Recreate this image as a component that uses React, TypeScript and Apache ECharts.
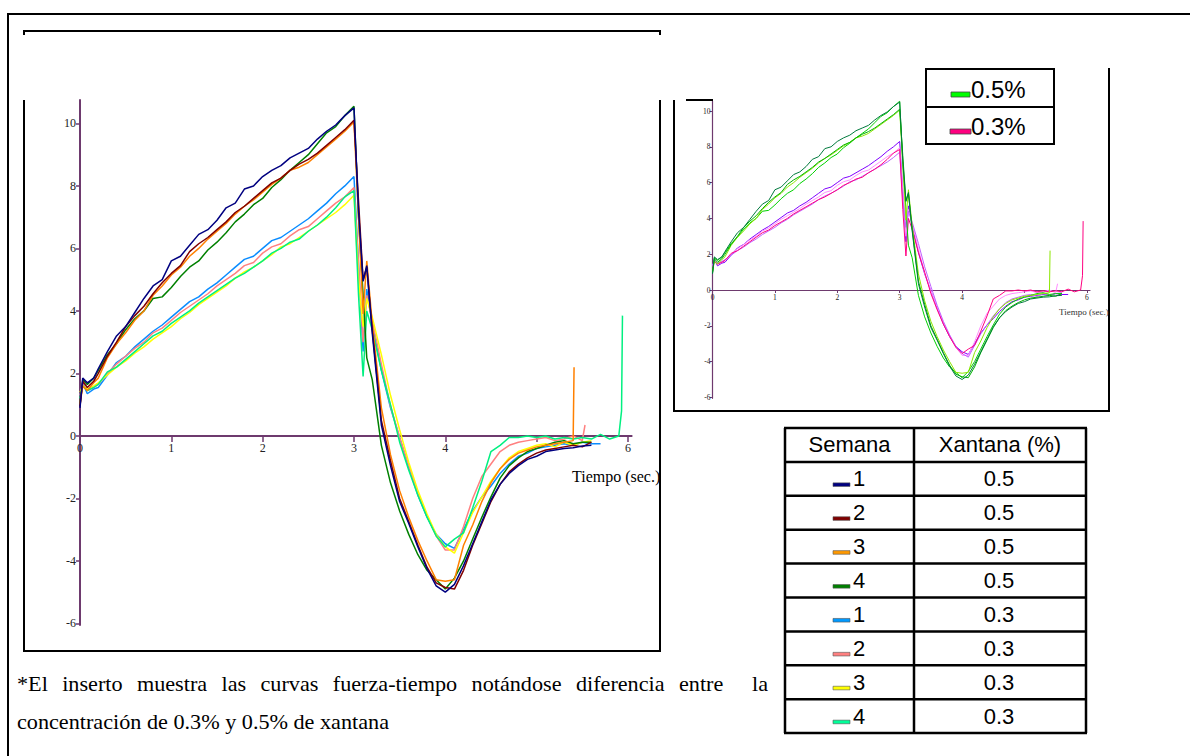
import React, { useEffect, useRef } from "react";
import * as echarts from "echarts";

// ---------- DATA ----------
const TIME = [
  0, 0.03, 0.08, 0.15, 0.2, 0.3, 0.4, 0.5, 0.6, 0.7, 0.8, 0.9, 1.0, 1.1, 1.2, 1.3, 1.4, 1.5, 1.6, 1.7,
  1.8, 1.9, 2.0, 2.1, 2.2, 2.3, 2.4, 2.5, 2.6, 2.7, 2.8, 2.9, 3.0,
  3.05, 3.1, 3.14, 3.2, 3.3, 3.4, 3.5, 3.6, 3.7, 3.8, 3.9, 4.0, 4.1, 4.2, 4.3, 4.4, 4.5, 4.6, 4.7,
  4.8, 4.9, 5.0, 5.1, 5.2, 5.3, 5.4, 5.5, 5.6, 5.7, 5.8, 5.9,
];

// Semana 1, 0.5 %
const S1_05 = [
  0.9, 1.85, 1.7, 1.85, 2.15, 2.7, 3.2, 3.5, 3.95, 4.4, 4.8, 5.0, 5.6, 5.75, 6.1, 6.45, 6.6, 6.9, 7.3, 7.45,
  7.9, 8.0, 8.3, 8.5, 8.65, 8.9, 9.05, 9.2, 9.5, 9.75, 9.95, 10.25, 10.5,
  7.2, 4.95, 5.45, 3.3, 0.35, -0.95, -2.1, -2.8, -3.55, -4.25, -4.8, -5.0, -4.75, -4.15, -3.45, -2.75, -2.05, -1.55, -1.2,
  -0.95, -0.75, -0.65, -0.5, -0.45, -0.4, -0.38, -0.32, -0.3, null, null, null,
];
// Semana 2, 0.5 %
const S2_05 = [
  0.95, 1.75, 1.55, 1.75, 2.0, 2.55, 3.0, 3.5, 3.85, 4.15, 4.55, 4.9, 5.2, 5.45, 5.9, 6.15, 6.35, 6.6, 6.85, 7.15,
  7.35, 7.6, 7.85, 8.1, 8.25, 8.5, 8.7, 8.85, 9.05, 9.3, 9.55, 9.8, 10.1,
  7.5, 5.0, 5.4, 3.4, 0.5, -0.8, -2.0, -2.75, -3.5, -4.2, -4.7, -4.85, -4.9, -4.3, -3.5, -2.8, -2.1, -1.55, -1.15,
  -0.9, -0.7, -0.55, -0.45, -0.4, -0.35, -0.3, -0.35, -0.2, null, null, null,
];
// Semana 3, 0.5 %
const S3_05 = [
  1.0, 1.6, 1.45, 1.7, 1.85, 2.5, 2.95, 3.3, 3.7, 4.0, 4.5, 4.8, 5.15, 5.4, 5.75, 6.0, 6.3, 6.55, 6.8, 7.1,
  7.35, 7.55, 7.8, 8.05, 8.25, 8.5, 8.6, 8.75, 9.0, 9.25, 9.5, 9.75, 10.05,
  7.0, 3.9, 5.6, 3.6, 0.9, -0.6, -1.75, -2.6, -3.35, -4.0, -4.6, -4.65, -4.6, -3.5, -2.85, -2.1, -1.5, -1.05, -0.75,
  -0.55, -0.45, -0.35, -0.3, -0.25, -0.2, -0.15, null, null, null, null, null,
];
// Semana 4, 0.5 %
const S4_05 = [
  1.0, 1.8, 1.65, 1.85, 2.1, 2.6, 2.95, 3.4, 3.75, 4.0, 4.4, 4.45, 4.75, 5.1, 5.4, 5.6, 5.95, 6.2, 6.5, 6.85,
  7.1, 7.4, 7.6, 7.95, 8.2, 8.5, 8.75, 9.0, 9.35, 9.7, 9.9, 10.25, 10.55,
  7.0, 4.5, 2.5, 1.8, -0.3, -1.5, -2.4, -3.15, -3.8, -4.3, -4.6, -4.9, -4.55, -4.0, -3.3, -2.6, -1.95, -1.35, -0.95,
  -0.7, -0.5, -0.4, -0.3, -0.2, -0.15, -0.25, -0.2, -0.2, null, null, null,
];
// Semana 1, 0.3 %
const S1_03 = [
  1.3, 1.7, 1.35, 1.5, 1.55, 1.95, 2.35, 2.55, 2.85, 3.1, 3.35, 3.55, 3.8, 4.05, 4.3, 4.45, 4.7, 4.9, 5.15, 5.4,
  5.65, 5.75, 6.0, 6.25, 6.35, 6.55, 6.75, 6.95, 7.2, 7.45, 7.75, 8.0, 8.3,
  5.5, 2.7, 4.7, 3.6, 2.1, 0.9, -0.05, -1.0, -1.9, -2.6, -3.15, -3.45, -3.6, -3.0, -2.4, -1.95, -1.6, -1.2, -0.9,
  -0.65, -0.55, -0.4, -0.35, -0.3, -0.25, -0.3, -0.2, -0.25, -0.25, null, null,
];
// Semana 2, 0.3 %
const S2_03 = [
  1.3, 1.65, 1.45, 1.55, 1.65, 2.0, 2.3, 2.55, 2.8, 3.0, 3.3, 3.45, 3.7, 3.95, 4.15, 4.35, 4.55, 4.8, 5.0, 5.2,
  5.45, 5.55, 5.85, 6.05, 6.15, 6.4, 6.6, 6.7, 6.95, 7.2, 7.45, 7.65, 7.95,
  5.5, 3.0, 4.5, 3.7, 2.3, 0.95, -0.05, -0.95, -1.85, -2.55, -3.2, -3.65, -3.65, -2.9, -2.0, -1.3, -0.9, -0.5, -0.3,
  -0.2, -0.15, -0.1, -0.05, -0.15, -0.1, 0.0, -0.15, null, null, null, null,
];
// Semana 3, 0.3 %
const S3_03 = [
  1.4, 1.6, 1.5, 1.6, 1.7, 1.95, 2.2, 2.4, 2.65, 2.85, 3.1, 3.3, 3.5, 3.75, 3.95, 4.2, 4.4, 4.6, 4.8, 5.05,
  5.25, 5.4, 5.6, 5.8, 6.05, 6.15, 6.35, 6.55, 6.75, 6.95, 7.15, 7.4, 7.7,
  5.0, 3.5, 4.4, 3.8, 2.6, 1.3, 0.2, -0.85, -1.75, -2.5, -3.15, -3.55, -3.75, -3.1, -2.45, -1.95, -1.45, -1.05, -0.7,
  -0.5, -0.4, -0.3, -0.25, -0.35, -0.2, -0.3, -0.2, -0.15, null, null, null,
];
// Semana 4, 0.3 %
const S4_03 = [
  1.2, 1.6, 1.45, 1.55, 1.65, 2.05, 2.2, 2.45, 2.7, 2.95, 3.2, 3.35, 3.6, 3.8, 4.0, 4.25, 4.45, 4.65, 4.85, 5.05,
  5.2, 5.4, 5.6, 5.85, 6.0, 6.2, 6.3, 6.55, 6.75, 7.0, 7.3, 7.65, 7.85,
  4.5, 1.9, 4.0, 3.4, 2.1, 1.0, -0.2, -1.1, -1.9, -2.6, -3.2, -3.55, -3.3, -3.1, -2.3, -1.45, -0.5, -0.3, -0.05,
  -0.05, 0.0, -0.05, 0.0, -0.1, -0.05, -0.1, -0.05, -0.1, 0.05, -0.1, 0.0,
];

const SERIES_VALUES = [S1_05, S2_05, S3_05, S4_05, S1_03, S2_03, S3_03, S4_03];
// final spikes at the end of some records: [time, force]
const SERIES_TAILS: number[][][] = [
  [], [], [[5.41, 2.2]], [], [], [[5.53, 0.35]], [], [[5.93, 0.8], [5.94, 3.85]],
];
const WEEKS = ["1", "2", "3", "4", "1", "2", "3", "4"];
const XANTANA = ["0.5", "0.5", "0.5", "0.5", "0.3", "0.3", "0.3", "0.3"];
const MAIN_COLORS = ["#000080", "#800000", "#FF8000", "#008000", "#0A8CFF", "#FF8080", "#FFFF00", "#00F080"];
const SWATCH_COLORS = ["#000080", "#800000", "#FF9900", "#008000", "#0099FF", "#FF8080", "#FFFF00", "#00FF99"];
const INSET_COLORS = ["#007A3D", "#00B300", "#8CE600", "#00D000", "#8000FF", "#FF8CFF", "#C060FF", "#FF0080"];
const INSET_LEGEND = ["0.5%", "0.3%"];
const INSET_LEGEND_COLORS = ["#00FF00", "#FF0080"];
const Y_TICKS = [-6, -4, -2, 0, 2, 4, 6, 8, 10];
const X_TICKS = [0, 1, 2, 3, 4, 5, 6];
const X_LABELS = [0, 1, 2, 3, 4, 6];
const AXIS_TITLE = "Tiempo (sec.)";
const TABLE_HEADERS = ["Semana", "Xantana (%)"];
const CAPTION_LINE1 = "*El inserto muestra las curvas fuerza-tiempo notándose diferencia entre  la";
const CAPTION_LINE2 = "concentración de 0.3% y 0.5% de xantana";

// ---------- STYLE ----------
const SERIF = "'Liberation Serif', 'Times New Roman', serif";
const SANS = "'Liberation Sans', Arial, sans-serif";
const AXIS_COLOR = "#6E3A6E";

const MAIN_GRID = { left: 80, top: 100, width: 551.6, height: 525, ymin: -6.05, ymax: 10.75, xmax: 6.04 };
const INSET_GRID = { left: 712.5, top: 101, width: 377.5, height: 297.3, ymin: -6.05, ymax: 10.56, xmax: 6.05 };

function seriesData(i: number) {
  const vals = SERIES_VALUES[i];
  const pts: number[][] = [];
  TIME.forEach((t, k) => {
    const v = vals[k];
    if (v !== null && v !== undefined) pts.push([t, v]);
  });
  return pts.concat(SERIES_TAILS[i]);
}

function txt(x: number, y: number, text: string, fontSize: number, family: string, align = "left", scaleX = 1, fill = "#000") {
  return {
    type: "text",
    x,
    y,
    scaleX,
    silent: true,
    z: 20,
    style: {
      text,
      fontSize,
      fontFamily: family,
      fill,
      x: 0,
      y: 0,
      align,
      verticalAlign: "middle",
      textAlign: align,
      textVerticalAlign: "middle",
    },
  };
}

function ln(x1: number, y1: number, x2: number, y2: number, w = 2, color = "#000") {
  return { type: "line", silent: true, z: 20, shape: { x1, y1, x2, y2 }, style: { stroke: color, lineWidth: w } };
}

function buildGraphic() {
  const g: any[] = [];
  // outer frame
  g.push(ln(8, 14, 1190, 14, 2));
  g.push(ln(8, 13, 8, 756, 2));
  // main chart box
  g.push(ln(24, 31, 660, 31, 2));
  g.push(ln(24, 30, 24, 35, 2));
  g.push(ln(660, 30, 660, 35, 2));
  g.push(ln(24, 100, 24, 652, 2));
  g.push(ln(660, 100, 660, 652, 2));
  g.push(ln(23, 651, 661, 651, 2));
  // inset box
  g.push(ln(674, 100, 674, 412, 2));
  g.push(ln(673, 411, 1110, 411, 2));
  g.push(ln(1109, 68, 1109, 412, 2));
  g.push(ln(686, 100, 713, 100, 2));
  // axis titles
  g.push(txt(572, 476, AXIS_TITLE, 16, SERIF));
  g.push(txt(1059, 312, AXIS_TITLE, 9, SERIF, "left", 1, "#333"));

  // inset legend
  g.push({ type: "rect", silent: true, z: 20, shape: { x: 926, y: 69, width: 128, height: 75 }, style: { fill: "#fff", stroke: "#000", lineWidth: 2 } });
  g.push(ln(926, 107, 1054, 107, 2));
  INSET_LEGEND.forEach((label, i) => {
    const cy = i === 0 ? 89 : 126;
    g.push({ type: "rect", silent: true, z: 21, shape: { x: 951 - i, y: cy + 3, width: 19 + 2 * i, height: 5 }, style: { fill: INSET_LEGEND_COLORS[i], stroke: "#444", lineWidth: 0.8 } });
    g.push(txt(971, cy, label, 24, SANS, "left", 1));
  });

  // table
  const colX = [785, 914, 1086];
  const rowY: number[] = [];
  for (let r = 0; r <= 9; r++) rowY.push(428 + r * 33.9);
  rowY.forEach((y) => g.push(ln(colX[0] - 1, y, colX[2] + 1, y, 2.5)));
  colX.forEach((x) => g.push(ln(x, rowY[0], x, rowY[9], 2.5)));
  const hy = (rowY[0] + rowY[1]) / 2;
  g.push(txt((colX[0] + colX[1]) / 2, hy, TABLE_HEADERS[0], 22, SANS, "center"));
  g.push(txt((colX[1] + colX[2]) / 2, hy, TABLE_HEADERS[1], 22, SANS, "center"));
  WEEKS.forEach((w, i) => {
    const cy = (rowY[i + 1] + rowY[i + 2]) / 2;
    g.push({
      type: "rect", silent: true, z: 21,
      shape: { x: 833, y: cy + 4, width: 17, height: 3.6 },
      style: { fill: SWATCH_COLORS[i], stroke: "#555", lineWidth: 0.6 },
    });
    g.push(txt(853, cy, w, 22, SANS, "left"));
    g.push(txt(999, cy, XANTANA[i], 22, SANS, "center"));
  });

  // caption (justified first line)
  const sx = 1.11;
  const fs = 20;
  const ctx = document.createElement("canvas").getContext("2d") as CanvasRenderingContext2D;
  ctx.font = `${fs}px 'Liberation Serif'`;
  const parts = CAPTION_LINE1.split(/( +)/);
  const words: string[] = [];
  const gaps: number[] = [];
  parts.forEach((p) => {
    if (p.trim() === "") gaps.push(p.length);
    else words.push(p);
  });
  const wWidths = words.map((w) => ctx.measureText(w).width * sx);
  const total = wWidths.reduce((a, b) => a + b, 0);
  const startX = 17;
  const endX = 768;
  const nSpaces = gaps.reduce((a, b) => a + b, 0);
  const unit = (endX - startX - total) / nSpaces;
  let cx = startX;
  words.forEach((w, i) => {
    g.push(txt(cx, 684, w, fs, SERIF, "left", sx));
    cx += wWidths[i] + (i < gaps.length ? gaps[i] * unit : 0);
  });
  g.push(txt(startX, 722, CAPTION_LINE2, fs, SERIF, "left", sx));
  return g;
}

function axisPair(grid: number, inset: boolean) {
  const G = inset ? INSET_GRID : MAIN_GRID;
  const fs = inset ? 7.5 : 12;
  // place the x axis on the zero line (distance from grid bottom to y = 0)
  const zeroFromBottom = (G.height * (0 - G.ymin)) / (G.ymax - G.ymin);
  const xAxis = {
    type: "value",
    gridIndex: grid,
    position: "bottom",
    offset: -zeroFromBottom,
    min: 0,
    max: G.xmax,
    axisLine: { show: true, onZero: false, lineStyle: { color: AXIS_COLOR, width: inset ? 1.2 : 2 } },
    axisTick: { show: true, customValues: X_TICKS, length: inset ? 3 : 6, lineStyle: { color: AXIS_COLOR, width: inset ? 1 : 1.5 } },
    axisLabel: { customValues: X_LABELS, margin: inset ? 3 : 6, fontFamily: SERIF, fontSize: fs, color: "#222" },
    splitLine: { show: false },
  };
  const yAxis = {
    type: "value",
    gridIndex: grid,
    position: "left",
    min: G.ymin,
    max: G.ymax,
    axisLine: { show: true, onZero: false, lineStyle: { color: AXIS_COLOR, width: inset ? 1.2 : 2 } },
    axisTick: { show: true, customValues: Y_TICKS, length: inset ? 3 : 4, lineStyle: { color: AXIS_COLOR, width: inset ? 1 : 1.5 } },
    axisLabel: { customValues: Y_TICKS, margin: inset ? 2 : 4, fontFamily: SERIF, fontSize: fs, color: "#222" },
    splitLine: { show: false },
  };
  return { xAxis, yAxis };
}

export default function App() {
  const ref = useRef<HTMLDivElement>(null);
  useEffect(() => {
    if (!ref.current) return;
    const chart = echarts.init(ref.current, null, { renderer: "svg" });
    const main = axisPair(0, false);
    const inset = axisPair(1, true);
    const order = [4, 5, 6, 7, 3, 2, 1, 0];
    const series: any[] = [];
    order.forEach((i) => {
      series.push({
        type: "line", name: `m${i}`, xAxisIndex: 0, yAxisIndex: 0, data: seriesData(i),
        showSymbol: false, symbol: "none", silent: true,
        lineStyle: { color: MAIN_COLORS[i], width: 1.5 }, itemStyle: { color: MAIN_COLORS[i] },
      });
    });
    order.forEach((i) => {
      series.push({
        type: "line", name: `i${i}`, xAxisIndex: 1, yAxisIndex: 1, data: seriesData(i),
        showSymbol: false, symbol: "none", silent: true,
        lineStyle: { color: INSET_COLORS[i], width: 1 }, itemStyle: { color: INSET_COLORS[i] },
      });
    });
    chart.setOption({
      animation: false,
      backgroundColor: "#fff",
      grid: [
        { left: MAIN_GRID.left, top: MAIN_GRID.top, width: MAIN_GRID.width, height: MAIN_GRID.height, containLabel: false },
        { left: INSET_GRID.left, top: INSET_GRID.top, width: INSET_GRID.width, height: INSET_GRID.height, containLabel: false },
      ],
      xAxis: [main.xAxis, inset.xAxis],
      yAxis: [main.yAxis, inset.yAxis],
      series,
      graphic: buildGraphic(),
    });
    return () => chart.dispose();
  }, []);
  return <div ref={ref} style={{ position: "fixed", left: 0, top: 0, width: 1190, height: 756 }} />;
}
